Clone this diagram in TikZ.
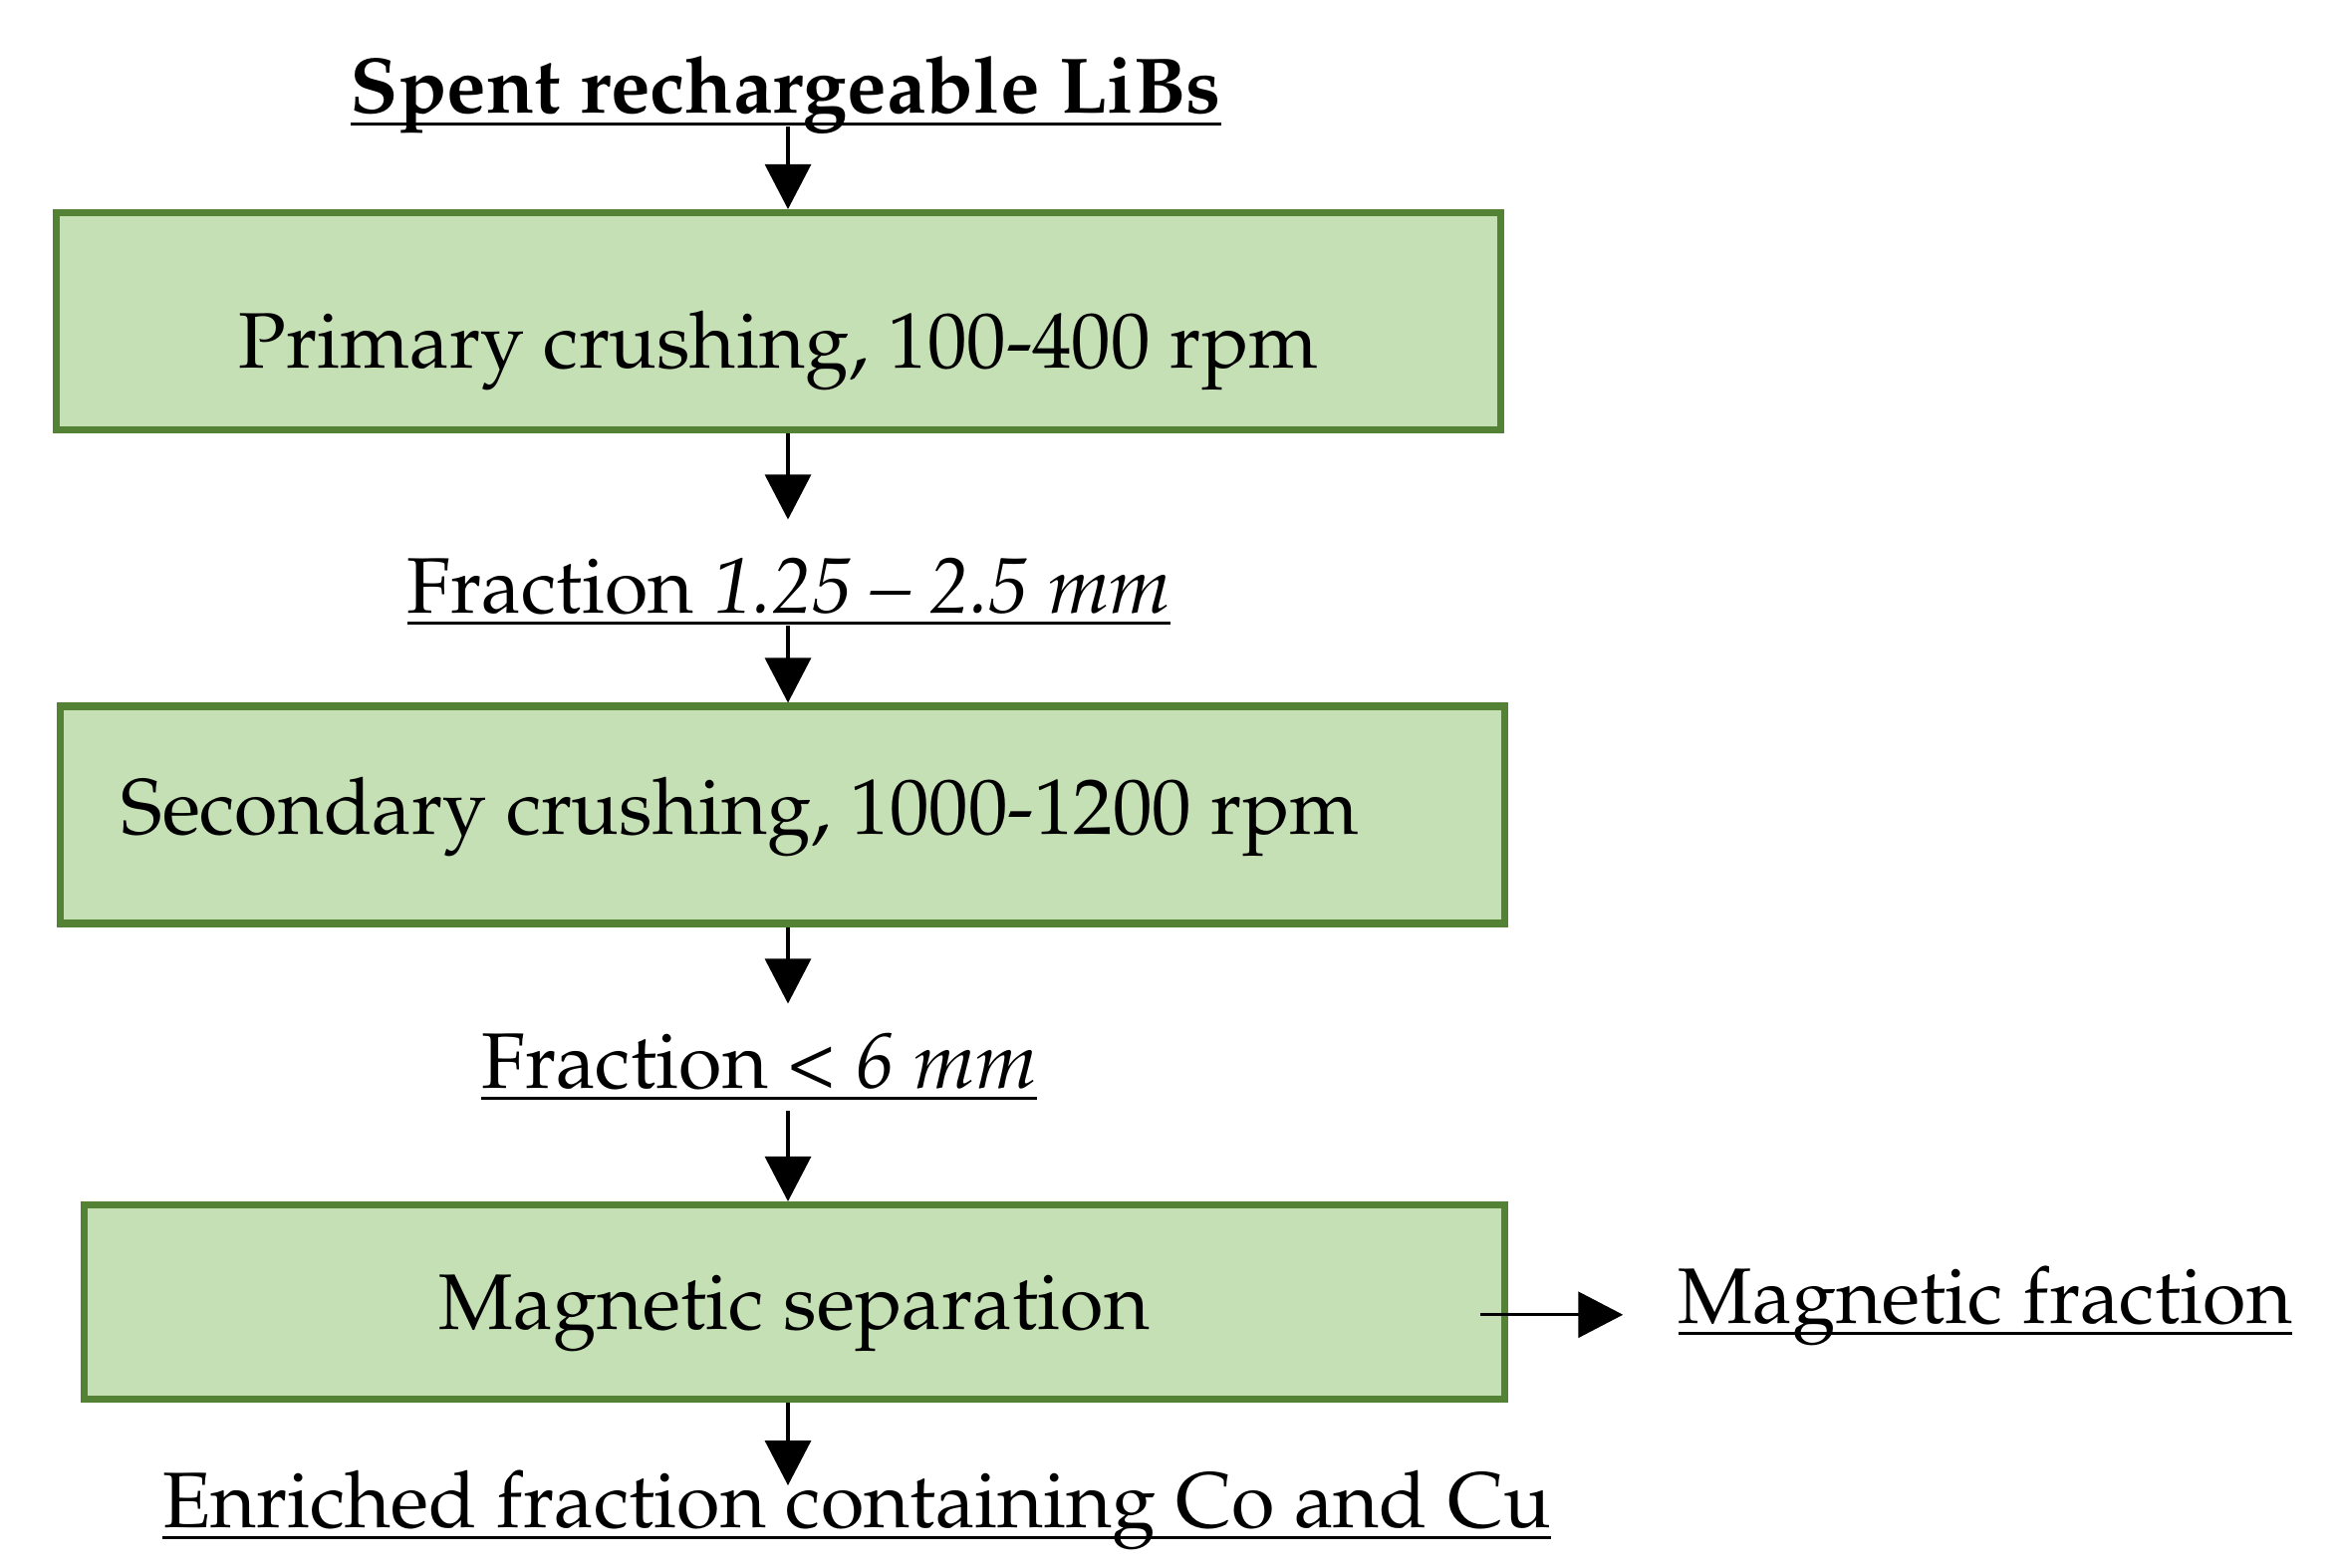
\documentclass[tikz,border=0pt]{standalone}
\usepackage{amsmath}
\usepackage[T1]{fontenc}
\usepackage{mathpazo}
\usepackage{tikz}
\usetikzlibrary{arrows.meta}

\definecolor{stagefill}{HTML}{C5E0B4}
\definecolor{stageline}{HTML}{548235}

% underlined stream label, line at a fixed distance under the baseline
\newcommand{\ulabel}[1]{\setbox0\hbox{#1}\dp0=0pt\rlap{\copy0}\rule[-3.5pt]{\wd0}{0.85pt}}

\tikzset{
    every node/.style={font=\fontsize{22.5pt}{27pt}\selectfont},
    stage/.style={draw=stageline, fill=stagefill, line width=2pt, minimum width=14.5cm, minimum height=2.18cm, inner sep=0pt, text depth=0pt},
    stream/.style={anchor=base, inner sep=0pt},
    flow/.style={-{Triangle[length=0.45cm, width=0.46cm]}, line width=0.9pt}
}

\begin{document}
\begin{tikzpicture}
        \useasboundingbox (0,0) rectangle (23.48,-15.74);
        \coordinate (axis) at (7.91,0);

        \draw (7.89, -1.14) node[stream] (libs) {\ulabel{\textbf{Spent rechargeable LiBs}}};
        \draw (7.815, -3.225) node[stage, text height=0.94cm] (prim) {Primary crushing, 100-400 rpm};

        \draw (7.92, -6.15) node[stream] (frac1) {\ulabel{Fraction \textit{1.25 -- 2.5 mm}}};
        \draw (7.855, -8.18) node[stage, text height=0.38cm] (sec) {Secondary crushing, 1000-1200 rpm\hspace*{0.85cm}};

        \draw (7.62, -10.92) node[stream] (frac2) {\ulabel{Fraction < \textit{6 mm}}};
        \draw (7.975, -13.07) node[stage, minimum width=14.26cm, minimum height=1.95cm, text height=0.54cm] (sep) {Magnetic separation};

        \draw (19.93, -13.28) node[stream] (mag) {\ulabel{Magnetic fraction}};
        \draw (8.60, -15.33) node[stream] (enr) {\ulabel{Enriched fraction containing Co and Cu}};

        \draw[flow] (libs.south -| axis) -- (prim.north -| axis);
        \draw[flow, shorten >=0.38cm] (prim.south -| axis) -- (frac1.north -| axis);
        \draw[flow] (frac1.south -| axis) -- (sec.north -| axis);
        \draw[flow, shorten >=0.29cm] (sec.south -| axis) -- (frac2.north -| axis);
        \draw[flow, shorten <=0.1cm] (frac2.south -| axis) -- (sep.north -| axis);
        \draw[flow, shorten >=-0.16cm] (sep.south -| axis) -- (enr.north -| axis);
        \draw[flow, shorten >=0.55cm] ([xshift=-0.28cm]sep.east |- mag.mid west) -- (mag.mid west);
\end{tikzpicture}
\end{document}
